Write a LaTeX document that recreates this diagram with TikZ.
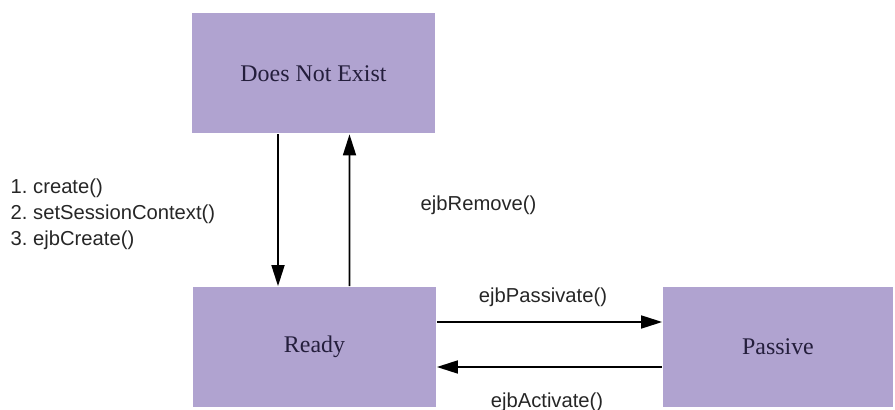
\documentclass[tikz,border=0pt]{standalone}
\usepackage{fontspec}
\setmainfont{Liberation Serif}
\newfontfamily\labelfont{Liberation Sans}
\usepackage{xcolor}
\usepackage{tikz}
\usetikzlibrary{arrows.meta}

\definecolor{statefill}{RGB}{176,163,208}
\definecolor{statetext}{RGB}{36,30,60}

\tikzset{
  state/.style={fill=statefill, text=statetext, minimum height=2.4cm,
    font=\fontsize{13.6}{16}\selectfont},
  call/.style={font=\labelfont\fontsize{11.5}{14.7}\selectfont, text=black!85}
}

\begin{document}
\begin{tikzpicture}[>={Triangle[length=4.2mm,width=2.6mm]}, line width=1pt]

\useasboundingbox (0,0) rectangle (17.9,8.2);

% States
\node[state, minimum width=4.86cm] (nonexist) at (6.27,6.73) {Does Not Exist};
\node[state, minimum width=4.86cm] (ready) at (6.29,1.26) {Ready};
\node[state, minimum width=4.6cm] (passive) at (15.56,1.26) {Passive};

% Create / remove
\draw[->] ([xshift=-0.71cm]nonexist.south) -- ([xshift=-0.73cm]ready.north);
\draw[->] ([xshift=0.70cm]ready.north) -- ([xshift=0.72cm]nonexist.south);

% Passivate / activate
\draw[->] ([yshift=0.5cm]ready.east) -- ([yshift=0.5cm]passive.west);
\draw[->] ([yshift=-0.4cm]passive.west) -- ([yshift=-0.4cm]ready.east);

% Labels
\node[call, anchor=west, align=left] (createlist) at (0.08,3.92)
  {1.\ create()\\2.\ setSessionContext()\\3.\ ejbCreate()};
\node[call, anchor=west] (removelbl) at (8.28,4.10) {ejbRemove()};
\node[call] (passlbl) at (10.86,2.26) {ejbPassivate()};
\node[call] (actlbl) at (10.94,0.16) {ejbActivate()};

\end{tikzpicture}
\end{document}
